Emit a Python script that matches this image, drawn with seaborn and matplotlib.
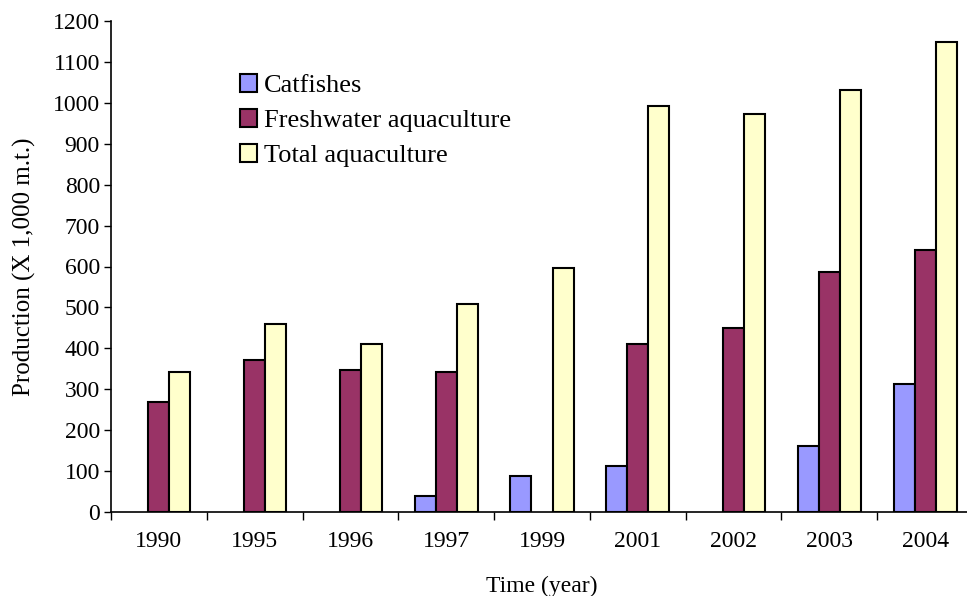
import numpy as np
import pandas as pd
import seaborn as sns
import matplotlib.pyplot as plt
from matplotlib.ticker import FixedLocator

# Values (NaN = no bar)
years = ['1990', '1995', '1996', '1997', '1999', '2001', '2002', '2003', '2004']
catfishes = [np.nan, np.nan, np.nan, 38, 88, 112, np.nan, 161, 313]
freshwater = [269, 372, 347, 341, np.nan, 411, 450, 587, 640]
total = [341, 460, 411, 509, 597, 993, 973, 1032, 1149]

series_names = ['Catfishes', 'Freshwater aquaculture', 'Total aquaculture']
colors = ['#9999FF', '#993366', '#FFFFCC']

df = pd.DataFrame({
    'year': years * 3,
    'series': [s for s in series_names for _ in years],
    'value': catfishes + freshwater + total,
})

sns.set_style('white')
plt.rcParams['font.family'] = ['Liberation Serif', 'DejaVu Serif']
plt.rcParams['text.color'] = 'black'
plt.rcParams['axes.labelcolor'] = 'black'
plt.rcParams['xtick.color'] = 'black'
plt.rcParams['ytick.color'] = 'black'

fig = plt.figure(figsize=(9.67, 5.96), dpi=100)
ax = fig.add_axes([111 / 967, 84 / 596, 862 / 967, 491 / 596])

sns.barplot(data=df, x='year', y='value', hue='series', order=years,
            hue_order=series_names, palette=dict(zip(series_names, colors)),
            saturation=1, width=0.66, edgecolor='black', linewidth=1.5,
            errorbar=None, ax=ax)

ax.set_xlim(-0.5, len(years) - 0.5)
ax.set_ylim(0, 1200)
ax.set_yticks(range(0, 1201, 100))

# x ticks: labels at centres, tick marks at category boundaries
ax.xaxis.set_minor_locator(FixedLocator(np.arange(-0.5, len(years), 1.0)))
ax.tick_params(axis='x', which='major', length=0, pad=14, labelsize=17)
ax.tick_params(axis='x', which='minor', length=6, width=1, color='black', direction='out')
ax.tick_params(axis='y', length=5, width=1, color='black', direction='out', labelsize=17, pad=3)
ax.tick_params(bottom=True, left=True, which='both')

for side in ['top', 'right']:
    ax.spines[side].set_visible(False)
for side in ['left', 'bottom']:
    ax.spines[side].set_color('black')
    ax.spines[side].set_linewidth(1.2)

ax.set_xlabel('Time (year)', fontsize=17, labelpad=17)
ax.set_ylabel('Production (X 1,000 m.t.)', fontsize=18, labelpad=12)

leg = ax.legend(loc='upper left', bbox_to_anchor=(0.122, 0.94), frameon=False,
                fontsize=19, handlelength=0.65, handleheight=0.65,
                handletextpad=0.25, labelspacing=0.45)
for h in leg.legend_handles:
    h.set_edgecolor('black')
    h.set_linewidth(1.5)

fig.savefig('out.png', dpi=100)
